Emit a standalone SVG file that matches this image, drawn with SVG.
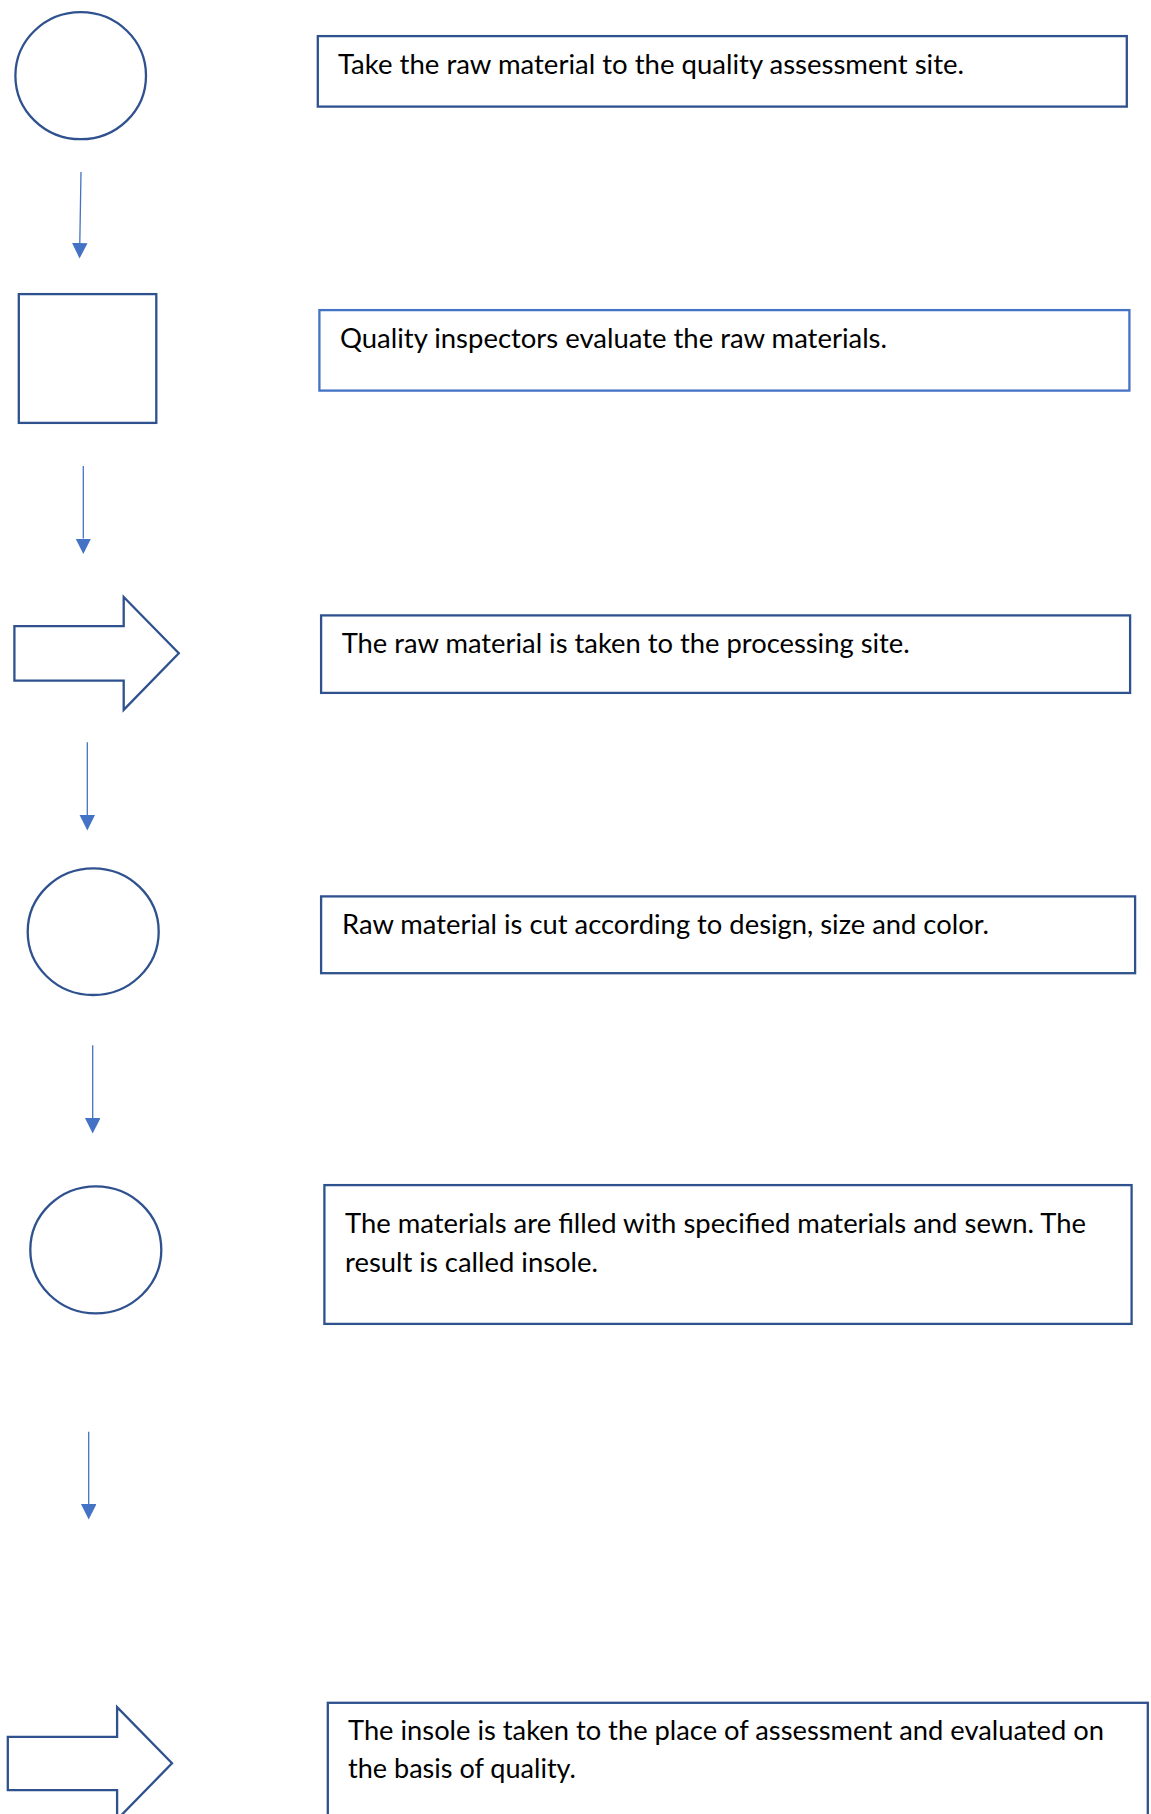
<svg xmlns="http://www.w3.org/2000/svg" width="1151" height="1814" viewBox="0 0 1151 1814">
  <style>
    .shape { fill: #ffffff; stroke: #2F528F; stroke-width: 2.3; }
    .shape.light { stroke: #4472C4; }
    .label { font-family: Lato, "Liberation Sans", sans-serif; font-size: 26px; fill: #000000; }
    .flow line { stroke: #4472C4; stroke-width: 1.3; fill: none; }
  </style>
  <defs>
    <marker id="head" markerUnits="userSpaceOnUse" markerWidth="16" markerHeight="16" refX="0" refY="7.75" orient="auto">
      <path d="M0,0 L15.5,7.75 L0,15.5 z" fill="#4472C4"/>
    </marker>
  </defs>
  <rect width="1151" height="1814" fill="#ffffff"/>

  <!-- left column: process symbols -->
  <g id="step1-operation">
    <ellipse class="shape" cx="80.7" cy="75.7" rx="65.3" ry="63.5"/>
  </g>
  <g id="step2-inspection">
    <rect class="shape" x="18.8" y="294.1" width="137.5" height="128.8"/>
  </g>
  <g id="step3-transport">
    <polygon class="shape" points="14.4,626.1 123.7,626.1 123.7,597 178.8,653.3 123.7,709.8 123.7,680.6 14.4,680.6"/>
  </g>
  <g id="step4-operation">
    <ellipse class="shape" cx="93.2" cy="931.7" rx="65.5" ry="63.3"/>
  </g>
  <g id="step5-operation">
    <ellipse class="shape" cx="95.8" cy="1249.8" rx="65.5" ry="63.5"/>
  </g>
  <g id="step6-transport">
    <polygon class="shape" points="7.8,1736.8 117.1,1736.8 117.1,1707.1 172,1763.3 117.1,1819.5 117.1,1790.1 7.8,1790.1"/>
  </g>

  <!-- right column: descriptions -->
  <g id="desc1">
    <rect class="shape" x="317.8" y="36.1" width="809" height="70.5"/>
    <text class="label" x="338" y="74" textLength="626" lengthAdjust="spacingAndGlyphs">Take the raw material to the quality assessment site.</text>
  </g>
  <g id="desc2">
    <rect class="shape light" x="319.4" y="310.1" width="810" height="80.5"/>
    <text class="label" x="340" y="348.3" textLength="547" lengthAdjust="spacingAndGlyphs">Quality inspectors evaluate the raw materials.</text>
  </g>
  <g id="desc3">
    <rect class="shape" x="321.1" y="615.4" width="809" height="77.5"/>
    <text class="label" x="341.7" y="652.7" textLength="568" lengthAdjust="spacingAndGlyphs">The raw material is taken to the processing site.</text>
  </g>
  <g id="desc4">
    <rect class="shape" x="321.1" y="896.4" width="814" height="76.8"/>
    <text class="label" x="342" y="934" textLength="647" lengthAdjust="spacingAndGlyphs">Raw material is cut according to design, size and color.</text>
  </g>
  <g id="desc5">
    <rect class="shape" x="324.4" y="1185.1" width="807.2" height="138.8"/>
    <text class="label" x="345" y="1233.3" textLength="741" lengthAdjust="spacingAndGlyphs">The materials are filled with specified materials and sewn. The</text>
    <text class="label" x="345" y="1271.7" textLength="253" lengthAdjust="spacingAndGlyphs">result is called insole.</text>
  </g>
  <g id="desc6">
    <rect class="shape" x="327.8" y="1702.8" width="820" height="150"/>
    <text class="label" x="348" y="1740" textLength="756" lengthAdjust="spacingAndGlyphs">The insole is taken to the place of assessment and evaluated on</text>
    <text class="label" x="348" y="1778.3" textLength="228" lengthAdjust="spacingAndGlyphs">the basis of quality.</text>
  </g>

  <!-- connectors between the symbols -->
  <g id="connectors" class="flow">
    <line x1="81" y1="172" x2="79.8" y2="243" marker-end="url(#head)"/>
    <line x1="83.3" y1="466" x2="83.3" y2="538.5" marker-end="url(#head)"/>
    <line x1="87.3" y1="742.3" x2="87.3" y2="815" marker-end="url(#head)"/>
    <line x1="92.7" y1="1045.3" x2="92.7" y2="1118" marker-end="url(#head)"/>
    <line x1="88.7" y1="1431.7" x2="88.7" y2="1504" marker-end="url(#head)"/>
  </g>
</svg>
